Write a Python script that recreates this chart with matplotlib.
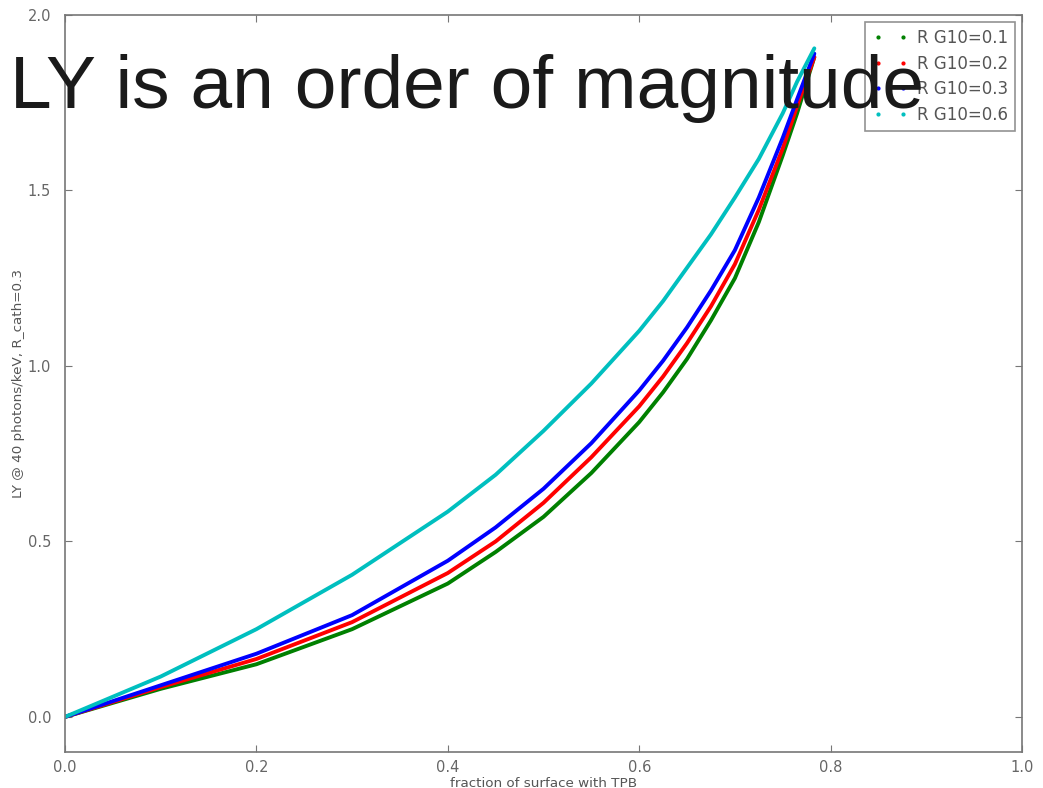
import matplotlib
matplotlib.use("Agg")
import matplotlib.pyplot as plt
from matplotlib.lines import Line2D

# fraction of surface with TPB
x_vals = [0.0, 0.1, 0.2, 0.3, 0.4, 0.45, 0.5, 0.55, 0.6, 0.625, 0.65, 0.675,
          0.7, 0.725, 0.75, 0.765, 0.783]
# LY for each R G10
ly_g10_01 = [0.0, 0.08, 0.15, 0.25, 0.38, 0.47, 0.57, 0.695, 0.84, 0.925, 1.02, 1.13,
             1.25, 1.41, 1.60, 1.72, 1.88]
ly_g10_02 = [0.0, 0.085, 0.165, 0.27, 0.41, 0.50, 0.61, 0.74, 0.885, 0.97, 1.065, 1.17,
             1.29, 1.445, 1.62, 1.74, 1.88]
ly_g10_03 = [0.0, 0.09, 0.18, 0.29, 0.445, 0.54, 0.65, 0.78, 0.93, 1.015, 1.11, 1.215,
             1.33, 1.48, 1.65, 1.76, 1.89]
ly_g10_06 = [0.0, 0.115, 0.25, 0.405, 0.585, 0.69, 0.815, 0.95, 1.10, 1.185, 1.28, 1.375,
             1.48, 1.59, 1.72, 1.81, 1.905]

labels = ["R G10=0.1", "R G10=0.2", "R G10=0.3", "R G10=0.6"]
colors = ["#008000", "#ff0000", "#0000ff", "#00bfbf"]
series = [ly_g10_01, ly_g10_02, ly_g10_03, ly_g10_06]

xticks = [0.0, 0.2, 0.4, 0.6, 0.8, 1.0]
yticks = [0.0, 0.5, 1.0, 1.5, 2.0]

fig = plt.figure(figsize=(10.43, 7.88), dpi=100)
ax = fig.add_axes([65/1043, 1-752/788, (1022-65)/1043, (752-15)/788])

for ys, c in zip(series, colors):
    ax.plot(x_vals, ys, color=c, lw=2.8, solid_capstyle='round', solid_joinstyle='round')

ax.set_xlim(0.0, 1.0)
ax.set_ylim(-0.1, 2.0)
ax.set_xticks(xticks)
ax.set_yticks(yticks)
ax.set_xticklabels([f"{t:.1f}" for t in xticks])
ax.set_yticklabels([f"{t:.1f}" for t in yticks])
ax.tick_params(direction='in', top=True, right=True, labelsize=10.5,
               labelcolor='#666666', color='#777777', length=5)
ax.tick_params(axis='y', pad=10)
ax.tick_params(axis='x', pad=6)
for s in ax.spines.values():
    s.set_color('#777777')
    s.set_linewidth(1.2)

ax.set_xlabel("fraction of surface with TPB", fontsize=9.7, color='#555555', labelpad=1)
ax.set_ylabel("LY @ 40 photons/keV, R_cath=0.3", fontsize=9.7, color='#555555', labelpad=2)

handles = [Line2D([], [], ls='none', marker='.', markersize=4, color=c) for c in colors]
leg = ax.legend(handles, labels, loc='upper right', numpoints=2, fontsize=12,
                frameon=True, fancybox=False, borderpad=0.45, labelspacing=0.45,
                handlelength=2.1, handletextpad=0.55, borderaxespad=0.4)
leg.get_frame().set_edgecolor('#777777')
leg.get_frame().set_linewidth(1.2)
for t in leg.get_texts():
    t.set_color('#555555')

fig.text(10/1043, 1-108/788, "LY is an order of magnitude", fontsize=54,
         family='Liberation Sans', color='#1a1a1a', va='baseline', ha='left')

fig.savefig("out.png", dpi=100)
